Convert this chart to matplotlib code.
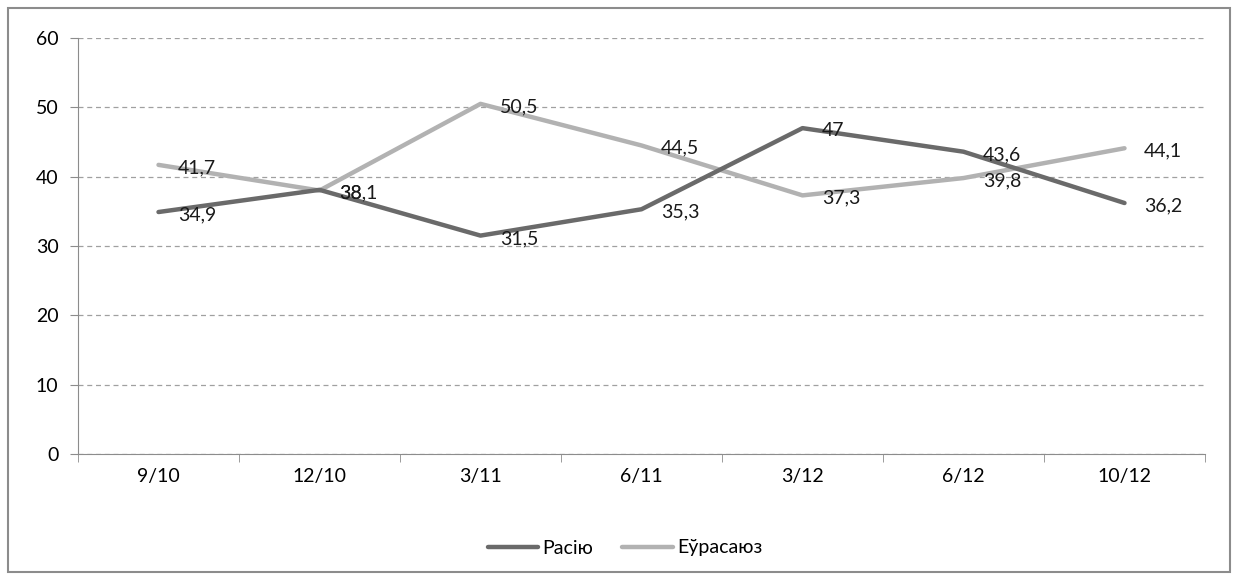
import matplotlib.pyplot as plt
from matplotlib.patches import Rectangle

plt.rcParams['font.family'] = ['Lato', 'DejaVu Sans']

periods = ['9/10', '12/10', '3/11', '6/11', '3/12', '6/12', '10/12']
russia = [34.9, 38.1, 31.5, 35.3, 47, 43.6, 36.2]
eurasia = [41.7, 38, 50.5, 44.5, 37.3, 39.8, 44.1]
series_names = ['Расію', 'Еўрасаюз']
yticks = [0, 10, 20, 30, 40, 50, 60]


def fmt(v):
    return ('%g' % v).replace('.', ',')


fig = plt.figure(figsize=(12.38, 5.8), dpi=100)
fig.patches.append(Rectangle((8 / 1238, 8 / 580), 1222 / 1238, 564 / 580,
                             transform=fig.transFigure, fill=False,
                             edgecolor='#8c8c8c', linewidth=1.5))
ax = fig.add_axes([78 / 1238, 1 - 454 / 580, 1127 / 1238, 416 / 580])

x = list(range(len(periods)))
ax.plot(x, russia, color='#6a6a6a', lw=3.2, label=series_names[0],
        solid_capstyle='round', zorder=3)
ax.plot(x, eurasia, color='#b2b2b2', lw=3.2, label=series_names[1],
        solid_capstyle='round', zorder=2)

# Excel-style labels to the right of each point (the 12/10 pair overlaps, as in the original)
for series in (russia, eurasia):
    for xi, v in zip(x, series):
        ax.annotate(fmt(v), (xi, v), xytext=(14, -2), textcoords='offset points',
                    ha='left', va='center', fontsize=14, color='#1a1a1a', zorder=5)

ax.set_xlim(-0.5, len(periods) - 0.5)
ax.set_ylim(0, 60)
ax.set_yticks(yticks)
ax.set_yticklabels([str(t) for t in yticks], fontsize=14)
ax.set_xticks(x)
ax.set_xticklabels(periods, fontsize=14)
ax.set_xticks([i - 0.5 for i in range(len(periods) + 1)], minor=True)
ax.tick_params(axis='x', which='major', length=0, pad=10)
ax.tick_params(axis='x', which='minor', length=6, color='#8c8c8c', direction='out')
ax.tick_params(axis='y', length=6, color='#8c8c8c', pad=8)

ax.yaxis.grid(True, linestyle=(0, (4, 3)), color='#a0a0a0', lw=0.9)
ax.set_axisbelow(True)
for s in ('top', 'right'):
    ax.spines[s].set_visible(False)
for s in ('left', 'bottom'):
    ax.spines[s].set_color('#8c8c8c')

ax.legend(loc='center', bbox_to_anchor=(625 / 1238, 1 - 548 / 580),
          bbox_transform=fig.transFigure, ncol=2, frameon=False, fontsize=14,
          handlelength=2.6, handletextpad=0.2, columnspacing=1.5)

fig.savefig('out.png', dpi=100)
